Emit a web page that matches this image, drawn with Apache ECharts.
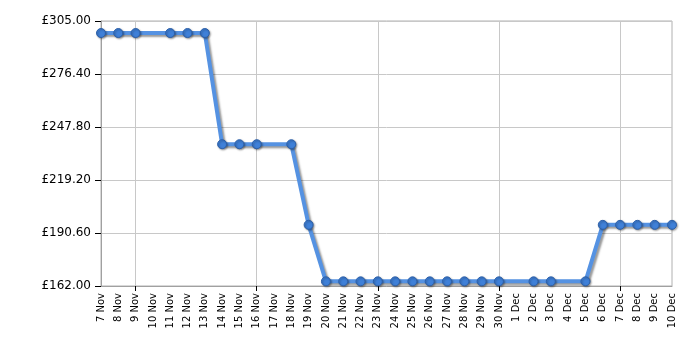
<!DOCTYPE html>
<html><head><meta charset="utf-8">
<script src="https://cdn.jsdelivr.net/npm/echarts@6/dist/echarts.min.js"></script>
<style>html,body{margin:0;padding:0;background:#fff}#c{width:700px;height:350px}</style>
</head><body><div id="c"></div>
<script>
var categories = ['7 Nov','8 Nov','9 Nov','10 Nov','11 Nov','12 Nov','13 Nov','14 Nov','15 Nov','16 Nov','17 Nov','18 Nov','19 Nov','20 Nov','21 Nov','22 Nov','23 Nov','24 Nov','25 Nov','26 Nov','27 Nov','28 Nov','29 Nov','30 Nov','1 Dec','2 Dec','3 Dec','4 Dec','5 Dec','6 Dec','7 Dec','8 Dec','9 Dec','10 Dec'];
var prices = [298.5,298.5,298.5,null,298.5,298.5,298.5,238.5,238.5,238.5,null,238.5,195,164.5,164.5,164.5,164.5,164.5,164.5,164.5,164.5,164.5,164.5,164.5,null,164.5,164.5,null,164.5,195,195,195,195,195];
var yMin = 162, yMax = 305, yStep = 28.6;

var chart = echarts.init(document.getElementById('c'));
function weekly(i){ return i % 7 === 2; }
chart.setOption({
  animation: false,
  grid: {left: 101, right: 28, top: 21, bottom: 64, show: true, borderColor: '#b0b0b0', borderWidth: 1},
  xAxis: {
    type: 'category', data: categories, boundaryGap: false,
    axisLine: {lineStyle: {color: '#a0a0a0'}},
    axisTick: {show: true, interval: function(i){return weekly(i);}, length: 5, lineStyle: {color: '#000'}},
    splitLine: {show: true, interval: function(i){return weekly(i);}, lineStyle: {color: '#c8c8c8'}},
    axisLabel: {interval: 0, rotate: 90, fontFamily: 'DejaVu Sans', fontSize: 10, color: '#000', margin: 7}
  },
  yAxis: {
    type: 'value', min: yMin, max: yMax, interval: yStep,
    axisLine: {show: true, lineStyle: {color: '#a0a0a0'}},
    axisTick: {show: true, length: 6, lineStyle: {color: '#000'}},
    splitLine: {show: true, lineStyle: {color: '#c8c8c8'}},
    axisLabel: {fontFamily: 'DejaVu Sans', fontSize: 12, color: '#000', margin: 10,
      formatter: function(v){ return '£' + v.toFixed(2); }}
  },
  series: [{
    type: 'line', data: prices, connectNulls: true,
    symbol: 'circle', symbolSize: 9,
    lineStyle: {color: '#5592e2', width: 4, shadowColor: 'rgba(0,0,0,0.4)', shadowBlur: 2, shadowOffsetX: 2, shadowOffsetY: 2},
    itemStyle: {color: '#3f80d8', borderColor: '#2c5fa8', borderWidth: 1, shadowColor: 'rgba(0,0,0,0.35)', shadowBlur: 2, shadowOffsetX: 1, shadowOffsetY: 1}
  }]
});
</script></body></html>
